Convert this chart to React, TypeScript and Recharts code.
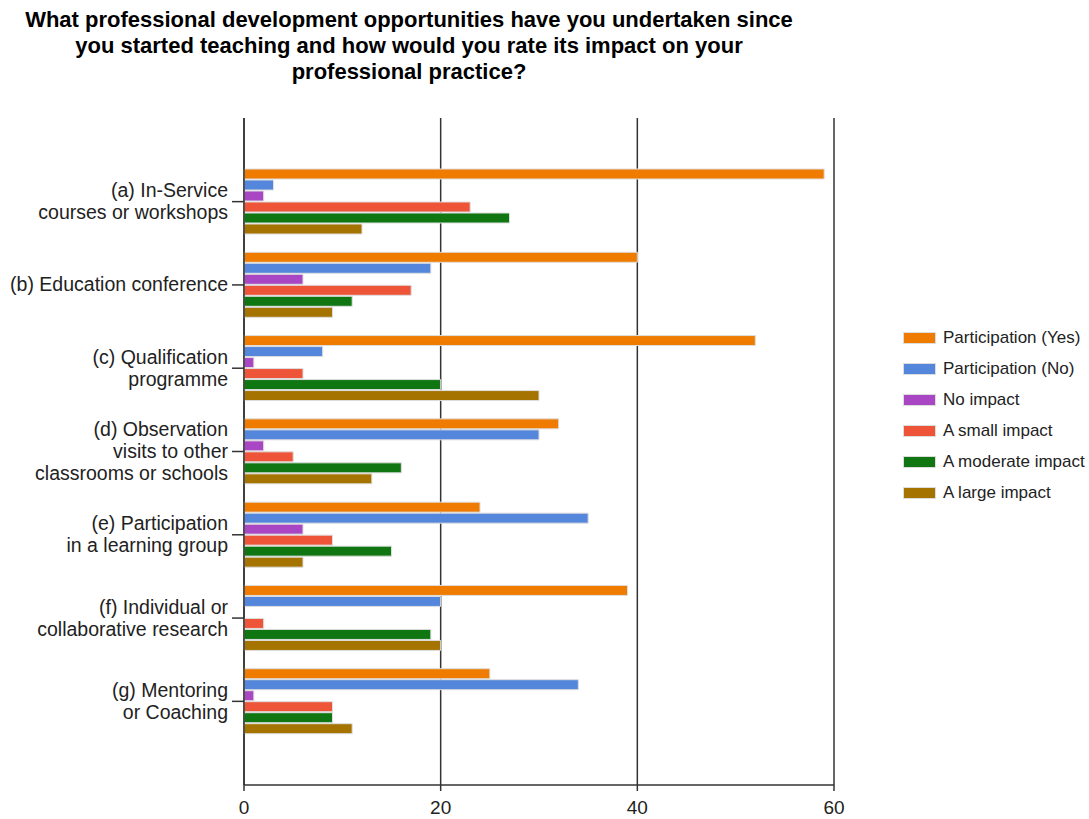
import { BarChart, Bar, XAxis, YAxis, CartesianGrid } from 'recharts'

const categories = [
  ['(a) In-Service', 'courses or workshops'],
  ['(b) Education conference'],
  ['(c) Qualification', 'programme'],
  ['(d) Observation', 'visits to other', 'classrooms or schools'],
  ['(e) Participation', 'in a learning group'],
  ['(f) Individual or', 'collaborative research'],
  ['(g) Mentoring', 'or Coaching'],
]

const participationYes = [59, 40, 52, 32, 24, 39, 25]
const participationNo = [3, 19, 8, 30, 35, 20, 34]
const noImpact = [2, 6, 1, 2, 6, 0, 1]
const smallImpact = [23, 17, 6, 5, 9, 2, 9]
const moderateImpact = [27, 11, 20, 16, 15, 19, 9]
const largeImpact = [12, 9, 30, 13, 6, 20, 11]

const xTicks = [0, 20, 40, 60]

const series = [
  { key: 'yes', name: 'Participation (Yes)', color: '#ef7c00' },
  { key: 'no', name: 'Participation (No)', color: '#5486db' },
  { key: 'none', name: 'No impact', color: '#a846c4' },
  { key: 'small', name: 'A small impact', color: '#ee5438' },
  { key: 'moderate', name: 'A moderate impact', color: '#0f7612' },
  { key: 'large', name: 'A large impact', color: '#a57300' },
]

const data = categories.map((lines, i) => ({
  name: lines.join(' '),
  yes: participationYes[i],
  no: participationNo[i],
  none: noImpact[i],
  small: smallImpact[i],
  moderate: moderateImpact[i],
  large: largeImpact[i],
}))

const font = '"Liberation Sans", Arial, sans-serif'

function CategoryTick({ x, y, index }: any) {
  const lines = categories[index] || []
  const lh = 22
  const start = -((lines.length - 1) * lh) / 2
  return (
    <text x={x} y={y} textAnchor="end" fontSize={19.5} fontFamily={font} fill="#222">
      {lines.map((l, i) => (
        <tspan key={i} x={x} dy={i === 0 ? start + 6.5 : lh}>
          {l}
        </tspan>
      ))}
    </text>
  )
}

// legend drawn as plain html so it doesn't eat chart space
function LegendBox() {
  return (
    <div
      style={{
        position: 'absolute',
        left: 903,
        top: 322,
        fontFamily: font,
        fontSize: 17,
        color: '#222',
      }}
    >
      {series.map((s) => (
        <div key={s.key} style={{ display: 'flex', alignItems: 'center', height: 31 }}>
          <div
            style={{
              width: 31,
              height: 10,
              background: s.color,
              border: '1px solid #ddd',
              marginRight: 7,
            }}
          />
          <span>{s.name}</span>
        </div>
      ))}
    </div>
  )
}

export default function App() {
  return (
    <div style={{ position: 'absolute', left: 0, top: 0, width: 1089, height: 819, background: '#fff' }}>
      <div
        style={{
          position: 'absolute',
          left: 0,
          top: 7,
          width: 818,
          textAlign: 'center',
          fontFamily: font,
          fontWeight: 'bold',
          fontSize: 22,
          lineHeight: '26px',
          color: '#000',
        }}
      >
        What professional development opportunities have you undertaken since
        <br />
        you started teaching and how would you rate its impact on your
        <br />
        professional practice?
      </div>
      <BarChart
        width={1089}
        height={819}
        data={data}
        layout="vertical"
        margin={{ top: 118, right: 255, bottom: 0, left: 0 }}
        barSize={10}
        barGap={1}
      >
        <CartesianGrid horizontal={false} stroke="#333" strokeWidth={1.5} />
        <XAxis
          type="number"
          domain={[0, 60]}
          ticks={xTicks}
          height={34}
          axisLine={{ stroke: '#333', strokeWidth: 1.5 }}
          tickLine={{ stroke: '#333', strokeWidth: 1.5 }}
          tickSize={6}
          tickMargin={10}
          tick={{ fontSize: 19, fontFamily: font, fill: '#222' }}
        />
        <YAxis
          type="category"
          dataKey="name"
          width={244}
          padding={{ top: 42, bottom: 42 }}
          axisLine={{ stroke: '#333', strokeWidth: 1.5 }}
          tickLine={{ stroke: '#333', strokeWidth: 1.5 }}
          tickSize={12}
          tickMargin={4}
          interval={0}
          tick={<CategoryTick />}
        />
        {series.map((s) => (
          <Bar
            key={s.key}
            dataKey={s.key}
            name={s.name}
            fill={s.color}
            stroke="#dedede"
            strokeWidth={1}
            isAnimationActive={false}
          />
        ))}
      </BarChart>
      <LegendBox />
    </div>
  )
}
